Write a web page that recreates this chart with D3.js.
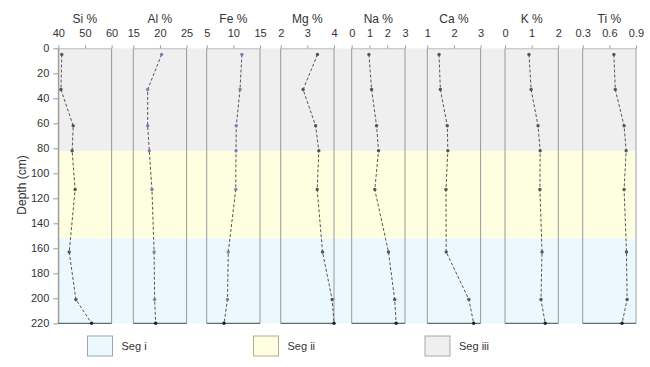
<!DOCTYPE html>
<meta charset="utf-8" />
<script src="https://d3js.org/d3.v7.min.js"></script>
<style>
  body { margin: 0; background: white; }
  text { font-family: Arial, "Liberation Sans", sans-serif; fill: #333; }
  .tick text { font-size: 11px; }
  .ptitle { font-size: 12px; }
</style>
<body>
<svg id="chart" width="650" height="367"></svg>
<script>
  // depths of the samples (cm)
  const depths = [5, 33, 62, 82, 113, 163, 201, 220];

  // elements, axis domains and tick labels
  const elements = ["Si %", "Al %", "Fe %", "Mg %", "Na %", "Ca %", "K %", "Ti %"];
  const domains = [[40, 60], [15, 25], [5, 15], [2, 4], [0, 3], [1, 3], [0, 2], [0.3, 0.9]];
  const tickVals = [[40, 50, 60], [15, 20, 25], [5, 10, 15], [2, 3, 4], [0, 1, 2, 3], [1, 2, 3], [0, 1, 2], [0.3, 0.6, 0.9]];

  // element values for each depth
  const si = [41.3, 41.0, 45.6, 45.2, 46.3, 44.1, 46.6, 52.5];
  const al = [20.3, 17.7, 17.7, 18.0, 18.5, 18.9, 19.0, 19.2];
  const fe = [11.6, 11.25, 10.55, 10.5, 10.45, 9.05, 8.9, 8.25];
  const mg = [3.38, 2.84, 3.31, 3.43, 3.37, 3.57, 3.93, 4.0];
  const na = [0.97, 1.12, 1.40, 1.51, 1.30, 2.07, 2.42, 2.50];
  const ca = [1.44, 1.49, 1.75, 1.77, 1.70, 1.71, 2.56, 2.74];
  const k = [0.90, 0.98, 1.24, 1.32, 1.31, 1.39, 1.35, 1.51];
  const ti = [0.651, 0.667, 0.766, 0.789, 0.766, 0.793, 0.80, 0.743];
  const series = [si, al, fe, mg, na, ca, k, ti];

  // segments (depth ranges)
  const segNames = ["Seg i", "Seg ii", "Seg iii"];
  const segTop = [152, 82, 0];
  const segBottom = [220, 152, 82];

  const segFill = ["#ebf8fe", "#fefee0", "#efefef"];
  const segStroke = ["#9aa6b2", "#b5b08a", "#a8a8a8"];
  const markerCol = ["#555", "#8a78b0", "#8a78b0", "#555", "#555", "#555", "#555", "#555"];

  const svg = d3.select("#chart");

  // layout
  const panelLeft = [58.3, 133.3, 206.7, 280.7, 351.7, 427.3, 505, 582.7];
  const panelW = 53.3;
  const plotLeft = 58.3, plotRight = 635;

  const y = d3.scaleLinear().domain([0, 220]).range([48.3, 323.3]);

  // background bands
  svg.append("g").selectAll("rect")
    .data(segNames)
    .join("rect")
    .attr("x", plotLeft)
    .attr("width", plotRight - plotLeft)
    .attr("y", (d, i) => y(segTop[i]))
    .attr("height", (d, i) => y(segBottom[i]) - y(segTop[i]))
    .attr("fill", (d, i) => segFill[i]);

  // y axis
  const yAxis = svg.append("g")
    .attr("transform", `translate(${plotLeft},0)`)
    .call(d3.axisLeft(y).tickValues(d3.range(0, 221, 20)).tickSize(5).tickSizeOuter(0).tickPadding(4));
  yAxis.select(".domain").attr("stroke", "#999");
  yAxis.selectAll(".tick line").attr("stroke", "#999");
  yAxis.selectAll(".tick text").attr("fill", "#333");

  svg.append("text")
    .attr("transform", "translate(26,185) rotate(-90)")
    .attr("text-anchor", "middle")
    .attr("font-size", 12)
    .text("Depth (cm)");

  const line = d3.line();

  elements.forEach((name, i) => {
    const x = d3.scaleLinear().domain(domains[i]).range([panelLeft[i], panelLeft[i] + panelW]);
    const g = svg.append("g");

    // panel side borders
    g.append("line")
      .attr("x1", x.range()[0]).attr("x2", x.range()[0])
      .attr("y1", y(0)).attr("y2", y(220))
      .attr("stroke", "#999");
    g.append("line")
      .attr("x1", x.range()[1]).attr("x2", x.range()[1])
      .attr("y1", y(0)).attr("y2", y(220))
      .attr("stroke", "#999");
    // bottom border
    g.append("line")
      .attr("x1", x.range()[0]).attr("x2", x.range()[1])
      .attr("y1", y(220)).attr("y2", y(220))
      .attr("stroke", "#444");

    // top axis
    const ax = g.append("g")
      .attr("transform", `translate(0,${y(0)})`)
      .call(d3.axisTop(x).tickValues(tickVals[i]).tickFormat(d3.format("~g"))
        .tickSize(3).tickSizeOuter(0).tickPadding(8));
    ax.select(".domain").attr("stroke", "#bbb");
    ax.selectAll(".tick line").attr("stroke", "#999");
    ax.selectAll(".tick text").attr("fill", "#333");

    g.append("text")
      .attr("class", "ptitle")
      .attr("x", x.range()[0] + panelW / 2)
      .attr("y", 23)
      .attr("text-anchor", "middle")
      .text(name);

    const pts = series[i].map((v, j) => [x(v), y(depths[j])]);
    g.append("path")
      .attr("d", line(pts))
      .attr("fill", "none")
      .attr("stroke", "#555")
      .attr("stroke-width", 1)
      .attr("stroke-dasharray", "3,2");

    g.selectAll("circle")
      .data(pts)
      .join("circle")
      .attr("cx", d => d[0])
      .attr("cy", d => d[1])
      .attr("r", 1.7)
      .attr("fill", (d, j) => j === pts.length - 1 ? "#222" : markerCol[i]);
  });

  // legend
  const legX = [87.5, 253.5, 425];
  const leg = svg.append("g");
  segNames.forEach((s, i) => {
    leg.append("rect")
      .attr("x", legX[i]).attr("y", 336)
      .attr("width", 25).attr("height", 20)
      .attr("fill", segFill[i])
      .attr("stroke", segStroke[i]);
    leg.append("text")
      .attr("x", legX[i] + 34).attr("y", 350)
      .attr("font-size", 11)
      .text(s);
  });
</script>
</body>
